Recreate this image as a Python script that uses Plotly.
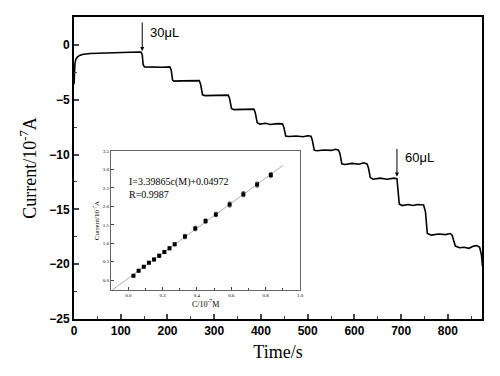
import plotly.graph_objects as go

# Main amperometric i-t curve (time in s, current in 1e-7 A)
time_s = [0, 1, 2, 4, 7, 12, 20, 35, 60, 90, 120, 140, 144,
          146, 148, 151, 160, 175, 190, 205,
          208, 211, 214, 230, 250, 268,
          271, 275, 280, 300, 315, 330,
          333, 337, 342, 360, 375, 385,
          388, 392, 398, 410, 420, 435, 446,
          449, 453, 460, 475, 490, 500, 507,
          510, 514, 520, 535, 550, 560, 566,
          569, 573, 580, 595, 610, 620, 627,
          630, 634, 640, 655, 670, 685, 691,
          693, 696, 702, 715, 725, 735, 748,
          752, 756, 765, 780, 795, 805, 809,
          812, 816, 825, 835, 845, 855, 862, 868, 872, 874]
current = [-3.6, -2.4, -1.7, -1.3, -1.1, -0.95, -0.85, -0.78, -0.73, -0.70, -0.67, -0.65, -0.66,
           -0.9, -1.8, -2.0, -2.02, -2.0, -2.03, -2.0,
           -2.3, -3.2, -3.3, -3.28, -3.3, -3.25,
           -3.6, -4.55, -4.62, -4.6, -4.62, -4.58,
           -4.9, -5.8, -5.9, -5.87, -5.9, -5.85,
           -6.2, -7.1, -7.22, -7.15, -7.25, -7.18, -7.2,
           -7.5, -8.3, -8.35, -8.3, -8.38, -8.28, -8.33,
           -8.7, -9.6, -9.65, -9.58, -9.62, -9.52, -9.6,
           -9.9, -10.85, -10.9, -10.8, -10.88, -10.75, -10.85,
           -11.2, -12.1, -12.25, -12.15, -12.25, -12.15, -12.2,
           -13.0, -14.5, -14.65, -14.55, -14.65, -14.55, -14.6,
           -15.2, -17.2, -17.35, -17.25, -17.3, -17.2, -17.35,
           -17.8, -18.35, -18.5, -18.45, -18.55, -18.35, -18.3, -18.45, -19.2, -20.2]

# Inset calibration data
conc = [0.03, 0.06, 0.09, 0.12, 0.15, 0.18, 0.21, 0.24, 0.27, 0.33, 0.39, 0.45, 0.51, 0.59, 0.67, 0.75, 0.83]
resp = [0.12, 0.25, 0.36, 0.47, 0.56, 0.66, 0.76, 0.86, 0.97, 1.18, 1.40, 1.60, 1.78, 2.05, 2.33, 2.59, 2.85]
resp_err = [0.03, 0.03, 0.03, 0.03, 0.04, 0.04, 0.04, 0.04, 0.04, 0.06, 0.06, 0.06, 0.06, 0.07, 0.07, 0.07, 0.07]
fit_x = [-0.1, 0.9]
fit_y = [3.39865 * v + 0.04972 for v in fit_x]

main_ticks = [0, 100, 200, 300, 400, 500, 600, 700, 800]
main_yticks = [0, -5, -10, -15, -20, -25]

SANS = "Liberation Sans, Arial, sans-serif"
SERIF = "Liberation Serif, Times New Roman, serif"

fig = go.Figure()
fig.add_trace(go.Scatter(x=time_s, y=current, mode="lines",
                         line=dict(color="black", width=1.6), showlegend=False,
                         xaxis="x", yaxis="y"))
fig.add_trace(go.Scatter(x=fit_x, y=fit_y, mode="lines",
                         line=dict(color="#999999", width=0.8), showlegend=False,
                         xaxis="x2", yaxis="y2"))
fig.add_trace(go.Scatter(x=conc, y=resp, mode="markers",
                         marker=dict(symbol="square", size=4, color="black"),
                         error_y=dict(type="data", array=resp_err, color="#333", thickness=0.7, width=1.5),
                         showlegend=False, xaxis="x2", yaxis="y2"))

fig.update_layout(
    width=500, height=376,
    margin=dict(l=74, r=18, t=17, b=57),
    paper_bgcolor="white", plot_bgcolor="white",
    xaxis=dict(range=[0, 873], tickvals=main_ticks, ticks="inside", ticklen=5, tickwidth=1.5,
               minor=dict(dtick=50, tick0=0, ticks="inside", ticklen=3, tickwidth=1.2),
               showline=True, linewidth=2, linecolor="black", mirror=True, showgrid=False, zeroline=False,
               tickfont=dict(family=SANS, size=12, color="black", weight="bold"),
               title=dict(text="Time/s", font=dict(family=SERIF, size=18, color="black"), standoff=8)),
    yaxis=dict(range=[-25, 2.55], tickvals=main_yticks, ticks="inside", ticklen=5, tickwidth=1.5,
               minor=dict(dtick=2.5, tick0=0, ticks="inside", ticklen=3, tickwidth=1.2),
               showline=True, linewidth=2, linecolor="black", mirror=True, showgrid=False, zeroline=False,
               tickfont=dict(family=SANS, size=12, color="black", weight="bold"),
               title=dict(text="Current/10<sup>-7</sup>A", font=dict(family=SERIF, size=18, color="black"), standoff=8)),
    xaxis2=dict(domain=[0.091, 0.554], anchor="y2", range=[-0.1, 1.0],
                tickvals=[0, 0.2, 0.4, 0.6, 0.8, 1.0], ticktext=["0.0", "0.2", "0.4", "0.6", "0.8", "1.0"],
                ticks="inside", ticklen=3, tickwidth=0.8, tickcolor="#444",
                minor=dict(dtick=0.1, tick0=0, ticks="inside", ticklen=2, tickwidth=0.6),
                showline=True, linewidth=1.4, linecolor="#666", mirror=True, showgrid=False, zeroline=False,
                tickfont=dict(family=SERIF, size=5, color="black"),
                title=dict(text="C/10<sup>-7</sup>M", font=dict(family=SERIF, size=8, color="black"), standoff=2)),
    yaxis2=dict(domain=[0.096, 0.556], anchor="x2", range=[-0.27, 3.5],
                tickvals=[0, 0.5, 1.0, 1.5, 2.0, 2.5, 3.0, 3.5],
                ticktext=["0.0", "0.5", "1.0", "1.5", "2.0", "2.5", "3.0", "3.5"],
                ticks="inside", ticklen=3, tickwidth=0.8, tickcolor="#444",
                showline=True, linewidth=1.4, linecolor="#666", mirror=True, showgrid=False, zeroline=False,
                tickfont=dict(family=SERIF, size=5, color="black"),
                title=dict(text="Current/10<sup>-7</sup>A", font=dict(family=SERIF, size=7, color="black"), standoff=2)),
    annotations=[
        dict(x=146, y=-0.55, xref="x", yref="y", ax=0, ay=-30, showarrow=True,
             arrowhead=2, arrowsize=0.8, arrowwidth=1, arrowcolor="black", text=""),
        dict(x=158, y=1.1, xref="x", yref="y", xanchor="left", yanchor="middle", showarrow=False,
             text="30μL", font=dict(family=SANS, size=13, color="black")),
        dict(x=691, y=-12.0, xref="x", yref="y", ax=0, ay=-29, showarrow=True,
             arrowhead=2, arrowsize=0.8, arrowwidth=1, arrowcolor="black", text=""),
        dict(x=704, y=-10.3, xref="x", yref="y", xanchor="left", yanchor="middle", showarrow=False,
             text="60μL", font=dict(family=SANS, size=13, color="black")),
        dict(x=-0.01, y=2.65, xref="x2", yref="y2", xanchor="left", yanchor="middle", showarrow=False,
             text="I=3.39865c(M)+0.04972", font=dict(family=SERIF, size=10, color="black")),
        dict(x=-0.01, y=2.32, xref="x2", yref="y2", xanchor="left", yanchor="middle", showarrow=False,
             text="R=0.9987", font=dict(family=SERIF, size=10, color="black")),
    ],
)

fig.write_html("out.html", config={"displayModeBar": False},
               post_script="document.body.style.margin='0px';")
